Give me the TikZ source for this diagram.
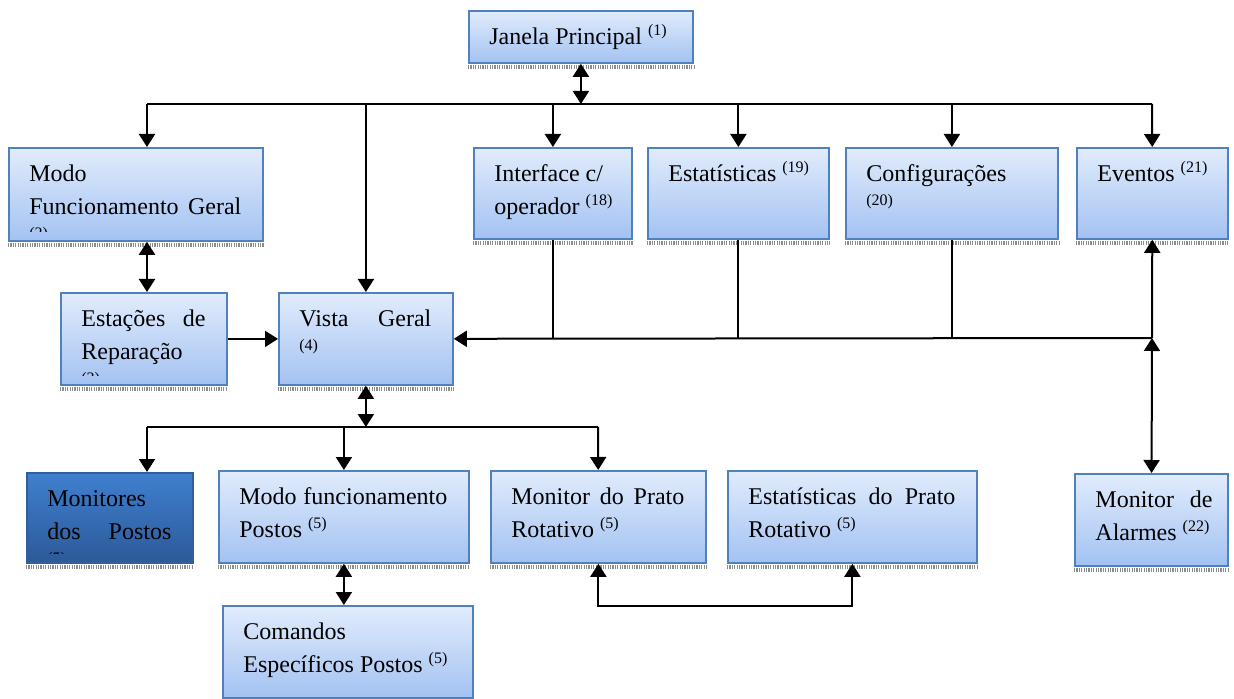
\documentclass[tikz,border=0pt]{standalone}
\usepackage{fontspec}
\setmainfont{Liberation Serif}
\usepackage{xcolor}
\usetikzlibrary{arrows.meta,calc}
\definecolor{blocktop}{HTML}{E1ECFC}
\definecolor{blockbottom}{HTML}{A3C2F2}
\definecolor{blockborder}{HTML}{4F81BD}
\definecolor{darktop}{HTML}{3F7FCF}
\definecolor{darkbottom}{HTML}{2C5A98}
\definecolor{darkborder}{HTML}{2F5F9E}
\definecolor{shadowgray}{HTML}{8C8C8C}
\hyphenpenalty=10000
\exhyphenpenalty=10000
\tolerance=10000
% text of a block, clipped to the inner part of the block
\newcommand{\blocktext}[3]{%
  \begin{scope}
    \clip (#1.north west) rectangle ([yshift=5pt]#1.south east);
    \node[labeltext,text width=#2] (#1text) at ([xshift=10.5pt,yshift=-5.5pt]#1.north west) {\strut #3};
  \end{scope}}

\begin{document}
\begin{tikzpicture}[x=0.5pt,y=-0.5pt,
  block/.style={draw=blockborder,line width=0.9pt,top color=blocktop,bottom color=blockbottom,anchor=north west,inner sep=0pt},
  darkblock/.style={block,draw=darkborder,top color=darktop,bottom color=darkbottom},
  labeltext/.style={anchor=north west,inner sep=0pt,align=justify,text=black,font=\fontsize{12}{16.5}\selectfont},
  link/.style={line width=1pt},
  arr/.style={link,-{Triangle[width=8pt,length=6.5pt]}},
  dbl/.style={link,{Triangle[width=8pt,length=6.5pt]}-{Triangle[width=8pt,length=6.5pt]}},
  shadowband/.style={shadowgray,line width=2pt,dash pattern=on 0.6pt off 0.6pt}]
  \useasboundingbox (0,0) rectangle (1234,699);

  % top row
  \node[block,minimum width=112pt,minimum height=26pt] (janela) at (468,10) {};
  \node[block,minimum width=127pt,minimum height=46.5pt] (modogeral) at (8,147) {};
  \node[block,minimum width=79pt,minimum height=45.5pt] (iface) at (473,147) {};
  \node[block,minimum width=90.5pt,minimum height=45.5pt] (estat) at (647,147) {};
  \node[block,minimum width=106pt,minimum height=45.5pt] (config) at (845,147) {};
  \node[block,minimum width=75.5pt,minimum height=45.5pt] (eventos) at (1076,147) {};
  \blocktext{janela}{100pt}{Janela Principal \textsuperscript{(1)}}
  \blocktext{modogeral}{106pt}{Modo\newline Funcionamento Geral\linebreak \textsuperscript{(2)}}
  \blocktext{iface}{62pt}{Interface c/\newline operador \textsuperscript{(18)}}
  \blocktext{estat}{80pt}{Estatísticas \textsuperscript{(19)}}
  \blocktext{config}{85pt}{Configurações\newline \textsuperscript{(20)}}
  \blocktext{eventos}{64pt}{Eventos \textsuperscript{(21)}}

  % middle row
  \node[block,minimum width=83pt,minimum height=46pt] (estacoes) at (60,292) {};
  \node[block,minimum width=87pt,minimum height=46pt] (vista) at (278,292) {};
  \blocktext{estacoes}{62pt}{Estações de\linebreak Reparação\newline \textsuperscript{(3)}}
  \blocktext{vista}{66pt}{Vista Geral\linebreak \textsuperscript{(4)}}

  % lower rows
  \node[darkblock,minimum width=83pt,minimum height=45pt] (monitores) at (26,472) {};
  \node[block,minimum width=125pt,minimum height=46pt] (mfp) at (218,470) {};
  \node[block,minimum width=107.5pt,minimum height=46pt] (mprato) at (490,470) {};
  \node[block,minimum width=124.5pt,minimum height=46pt] (eprato) at (727,470) {};
  \node[block,minimum width=76.5pt,minimum height=46pt] (alarmes) at (1074,473) {};
  \node[block,minimum width=125pt,minimum height=46pt] (comandos) at (222,605) {};
  \blocktext{monitores}{62pt}{Monitores\newline dos Postos\linebreak \textsuperscript{(5)}}
  \blocktext{mfp}{104pt}{Modo funcionamento\linebreak Postos \textsuperscript{(5)}}
  \blocktext{mprato}{86.5pt}{Monitor do Prato\linebreak Rotativo \textsuperscript{(5)}}
  \blocktext{eprato}{103.5pt}{Estatísticas do Prato\linebreak Rotativo \textsuperscript{(5)}}
  \blocktext{alarmes}{58.5pt}{Monitor de\linebreak Alarmes \textsuperscript{(22)}}
  \blocktext{comandos}{104pt}{Comandos\newline Específicos Postos \textsuperscript{(5)}}

  \foreach \n in {janela,modogeral,iface,estat,config,eventos,estacoes,vista,monitores,mfp,mprato,eprato,alarmes}
    \draw[shadowband] ([yshift=-1.6pt]\n.south west) -- ([yshift=-1.6pt]\n.south east);

  % buses
  \coordinate (tl) at (147,104);
  \coordinate (tr) at (1152,104);
  \coordinate (rb) at (1152,338);
  \coordinate (ml) at (147,427);
  \coordinate (mr) at (598,427);

  \draw[dbl] (janela) -- (janela |- tl);
  \draw[link] (tl) -- (tr);
  \draw[arr] (tl) -- (modogeral.north -| tl);
  \foreach \n in {vista,iface,estat,config}
    \draw[arr] (\n |- tl) -- (\n);
  \draw[arr] (tr) -- (eventos);

  \draw[dbl] (modogeral.south -| tl) -- (estacoes.north -| tl);
  \draw[arr] (estacoes) -- (vista);
  \foreach \n in {iface,estat,config}
    \draw[link] (\n) -- (\n |- rb);
  \draw[arr] (rb) -- (vista);
  \draw[arr] (rb) -- (eventos);
  \draw[dbl] (rb) -- (alarmes);

  \draw[dbl] (vista) -- (vista |- ml);
  \draw[link] (ml) -- (mr);
  \draw[arr] (ml) -- (monitores.north -| ml);
  \draw[arr] (mfp |- ml) -- (mfp);
  \draw[arr] (mr) -- (mprato);
  \draw[dbl] (mfp.south) -- (mfp.south |- comandos.north);
  \draw[dbl] (mprato.south) -- ++(0,42) -| (eprato.south);
\end{tikzpicture}
\end{document}
